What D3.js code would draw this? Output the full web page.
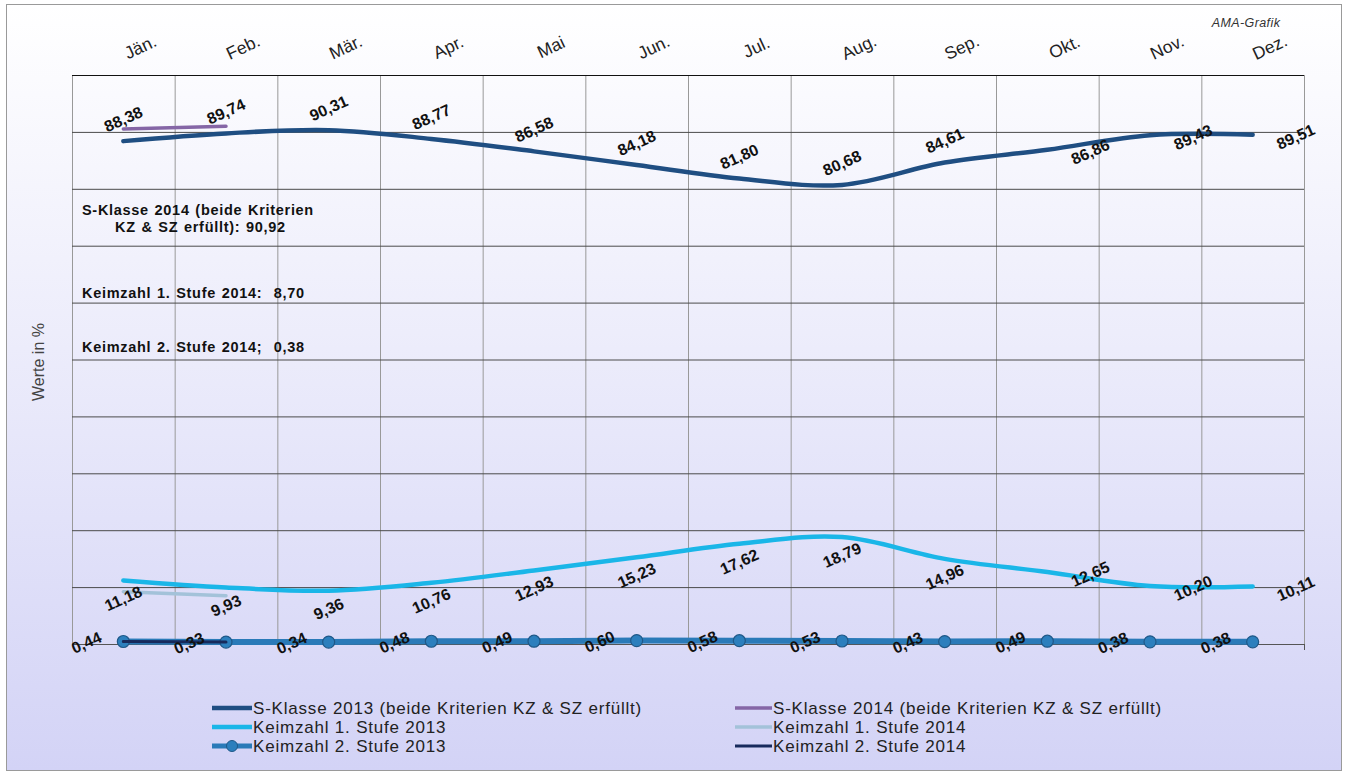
<!DOCTYPE html>
<html lang="de">
<head>
<meta charset="UTF-8"/>
<title>S-Klasse und Keimzahl 2013/2014</title>
<script src="https://d3js.org/d3.v7.min.js"></script>
<style>
	body { margin: 0; background: #fff; }
	svg { display: block; font-family: "Liberation Sans", Arial, sans-serif; }
</style>
</head>
<body>
<script>
	var w = 1347;
	var h = 776;

	// data
	var months = ["Jän.", "Feb.", "Mär.", "Apr.", "Mai", "Jun.", "Jul.", "Aug.", "Sep.", "Okt.", "Nov.", "Dez."];
	var sKlasse2013 = [88.38, 89.74, 90.31, 88.77, 86.58, 84.18, 81.80, 80.68, 84.61, 86.86, 89.43, 89.51];
	var sKlasse2014 = [90.5, 91.0];
	var keim1_2013 = [11.18, 9.93, 9.36, 10.76, 12.93, 15.23, 17.62, 18.79, 14.96, 12.65, 10.20, 10.11];
	var keim1_2014 = [9.2, 8.5];
	var keim2_2013 = [0.44, 0.33, 0.34, 0.48, 0.49, 0.60, 0.58, 0.53, 0.43, 0.49, 0.38, 0.38];
	var keim2_2014 = [0.44, 0.33];
	var notes = [
		["S-Klasse 2014 (beide Kriterien", "KZ & SZ erfüllt): 90,92"],
		["Keimzahl 1. Stufe 2014:  8,70"],
		["Keimzahl 2. Stufe 2014;  0,38"]
	];
	var legendNames = [
		"S-Klasse 2013 (beide Kriterien KZ & SZ erfüllt)",
		"Keimzahl 1. Stufe 2013",
		"Keimzahl 2. Stufe 2013",
		"S-Klasse 2014 (beide Kriterien KZ & SZ erfüllt)",
		"Keimzahl 1. Stufe 2014",
		"Keimzahl 2. Stufe 2014"
	];

	var pLeft = 72, pRight = 1304, pTop = 75, pBottom = 644;

	var svg = d3.select("body").append("svg")
		.attr("width", w)
		.attr("height", h);

	// background gradient
	var grad = svg.append("defs").append("linearGradient")
		.attr("id", "bg").attr("x1", 0).attr("y1", 0).attr("x2", 0).attr("y2", 1);
	grad.append("stop").attr("offset", "0%").attr("stop-color", "#ffffff");
	grad.append("stop").attr("offset", "45%").attr("stop-color", "#ececfb");
	grad.append("stop").attr("offset", "100%").attr("stop-color", "#d3d3f6");

	svg.append("rect")
		.attr("x", 6.5).attr("y", 4.5)
		.attr("width", 1335).attr("height", 766)
		.attr("fill", "url(#bg)")
		.attr("stroke", "#9a9a9a");

	var xScale = d3.scaleBand().domain(months).range([pLeft, pRight]);
	var xEdge = d3.scaleLinear().domain([0, 12]).range([pLeft, pRight]);
	var yScale = d3.scaleLinear().domain([0, 100]).range([pBottom, pTop]);
	function cx(i) { return xScale(months[i]) + xScale.bandwidth() / 2; }

	// vertical grid
	var vg = svg.append("g")
		.attr("transform", "translate(0," + pTop + ")")
		.call(d3.axisTop(xEdge).ticks(12).tickSize(-(pBottom - pTop)).tickFormat(""));
	vg.select(".domain").remove();
	vg.selectAll("line").attr("stroke", "#999");

	// horizontal grid
	var hg = svg.append("g")
		.attr("transform", "translate(" + pLeft + ",0)")
		.call(d3.axisLeft(yScale).ticks(10).tickSize(-(pRight - pLeft)).tickFormat(""));
	hg.select(".domain").remove();
	hg.selectAll("line").attr("stroke", "#4a4a4a");
	hg.selectAll(".tick").filter(function(d){ return d === 100; }).select("line").attr("stroke", "#111");

	// bottom axis line
	var xb = svg.append("g")
		.attr("transform", "translate(0," + pBottom + ")")
		.call(d3.axisBottom(xEdge).tickValues([12]).tickSize(6).tickFormat(""));
	xb.select(".domain").attr("stroke", "#555").attr("d", "M" + pLeft + ",0.5H" + pRight);
	xb.selectAll("line").attr("stroke", "#555");

	// month labels
	var xa = svg.append("g")
		.attr("transform", "translate(0," + pTop + ")")
		.call(d3.axisTop(xScale).tickSize(0));
	xa.select(".domain").remove();
	xa.selectAll("text")
		.attr("x", 0).attr("y", 0).attr("dy", "0.35em")
		.attr("transform", "translate(17,-28) rotate(-25)")
		.attr("text-anchor", "middle")
		.attr("font-size", "17.5px")
		.attr("font-family", "Liberation Sans, Arial, sans-serif")
		.attr("fill", "#222");

	// y title
	svg.append("text")
		.attr("transform", "translate(38,362) rotate(-90)")
		.attr("text-anchor", "middle")
		.attr("dy", "0.35em")
		.attr("font-size", "16px")
		.attr("fill", "#444")
		.text("Werte in %");

	svg.append("text")
		.attr("x", 1246).attr("y", 27)
		.attr("text-anchor", "middle")
		.attr("font-size", "12.5px")
		.attr("letter-spacing", "0.4px")
		.attr("font-style", "italic")
		.attr("fill", "#333")
		.text("AMA-Grafik");

	// annotations
	var noteY = [215, 298, 352];
	notes.forEach(function(lines, k){
		lines.forEach(function(t, j){
			svg.append("text")
				.attr("x", j === 0 ? 82 : 115)
				.attr("y", noteY[k] + j * 17)
				.attr("font-size", "14.5px")
				.attr("font-weight", "bold")
				.attr("letter-spacing", "0.7px")
				.attr("word-spacing", "1px")
				.style("white-space", "pre")
				.attr("fill", "#111")
				.text(t);
		});
	});

	var smooth = d3.line()
		.x(function(d, i){ return cx(i); })
		.y(function(d){ return yScale(d); })
		.curve(d3.curveCardinal.tension(0));
	var straight = d3.line()
		.x(function(d, i){ return cx(i); })
		.y(function(d){ return yScale(d); });

	function drawLine(data, color, width, gen) {
		svg.append("path")
			.datum(data)
			.attr("d", gen)
			.attr("fill", "none")
			.attr("stroke", color)
			.attr("stroke-width", width)
			.attr("stroke-linecap", "round");
	}

	drawLine(sKlasse2013, "#1f4e82", 4.5, smooth);
	drawLine(sKlasse2014, "#8566a6", 3.5, straight);
	drawLine(keim1_2013, "#1ab6e8", 4.5, smooth);
	drawLine(keim1_2014, "#a3c2d9", 3.5, straight);
	drawLine(keim2_2013, "#2a7ab8", 6, straight);

	svg.selectAll("circle.k2")
		.data(keim2_2013)
		.enter()
		.append("circle")
		.attr("class", "k2")
		.attr("cx", function(d, i){ return cx(i); })
		.attr("cy", function(d){ return yScale(d); })
		.attr("r", 6)
		.attr("fill", "#2c7fbd")
		.attr("stroke", "#1f5888")
		.attr("stroke-width", 1.2);

	drawLine(keim2_2014, "#172a5c", 3, straight);

	// value labels
	function fmt(v) { return v.toFixed(2).replace(".", ","); }
	function labels(data, dx, dy) {
		svg.append("g").selectAll("text")
			.data(data)
			.enter()
			.append("text")
			.attr("transform", function(d, i){
				var px = cx(i), py = yScale(d);
				if (i >= 9 && dx === null) { px += 43; py += 2; }
				else { px += (dx || 0); py += dy; }
				return "translate(" + px + "," + py + ") rotate(-24)";
			})
			.attr("text-anchor", "middle")
			.attr("dy", "0.35em")
			.attr("font-size", "16px")
			.attr("font-weight", "bold")
			.attr("fill", "#111")
			.text(fmt);
	}
	labels(sKlasse2013, null, -22);
	labels(keim1_2013, null, 18);
	labels(keim2_2013, -37, 1);

	// legend
	var legendColors = ["#1f4e82", "#1ab6e8", "#2a7ab8", "#8566a6", "#a3c2d9", "#172a5c"];
	var legendWidths = [4.5, 4.5, 5, 3.5, 3.5, 3];
	var legend = svg.append("g");
	legendNames.forEach(function(name, i){
		var col = Math.floor(i / 3), row = i % 3;
		var x0 = col === 0 ? 212 : 735;
		var x1 = col === 0 ? 252 : 772;
		var yy = 708 + row * 19;
		legend.append("line")
			.attr("x1", x0).attr("x2", x1)
			.attr("y1", yy).attr("y2", yy)
			.attr("stroke", legendColors[i])
			.attr("stroke-width", legendWidths[i]);
		if (i === 2) {
			legend.append("circle")
				.attr("cx", (x0 + x1) / 2).attr("cy", yy).attr("r", 5.5)
				.attr("fill", "#2c7fbd").attr("stroke", "#1f5888");
		}
		legend.append("text")
			.attr("x", x1 + 1).attr("y", yy)
			.attr("dy", "0.35em")
			.attr("font-size", "17px")
			.attr("letter-spacing", "0.8px")
			.attr("fill", "#222")
			.text(name);
	});
</script>
</body>
</html>
